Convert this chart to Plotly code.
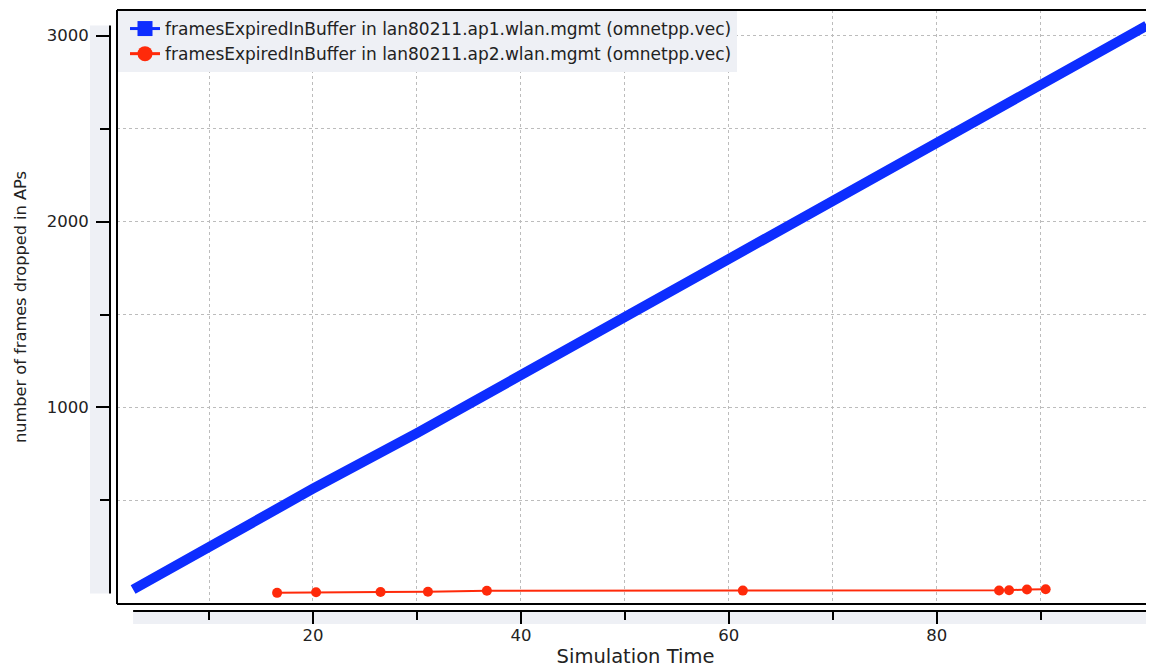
import plotly.graph_objects as go

# ---- data ----
sim_time_ap1 = [2.7, 10, 20, 30, 40, 50, 60, 70, 80, 90, 100.2]
frames_ap1 = [21, 250, 563, 862, 1175, 1492, 1802, 2115, 2421, 2740, 3054]

sim_time_ap2 = [16.55, 20.3, 26.5, 31.06, 36.73, 61.35, 86.0, 86.96, 88.68, 90.48]
frames_ap2 = [3, 6, 8, 9, 14, 15, 16, 17, 21, 22]

series_names = [
    "framesExpiredInBuffer in lan80211.ap1.wlan.mgmt (omnetpp.vec)",
    "framesExpiredInBuffer in lan80211.ap2.wlan.mgmt (omnetpp.vec)",
]

x_major_ticks = [20, 40, 60, 80]
x_minor_ticks = [10, 30, 50, 70, 90]
y_major_ticks = [1000, 2000, 3000]
y_minor_ticks = [500, 1500, 2500]

x_title = "Simulation Time"
y_title = "number of frames dropped in APs"

# ---- styling ----
BLUE = "#0d2dff"
RED = "#ff2a0a"
BAND = "#eef0f5"
GRID = "#bcbcbc"
FONT = "DejaVu Sans"
TXT = "#222222"

# page body has an 8px default margin: compensate
OFF = 8
W, H = 1154 - OFF, 668 - OFF
M_L, M_R, M_T, M_B = 110 - OFF, 0, 10 - OFF, 57
paper_w = W - M_L - M_R
paper_h = H - M_T - M_B
frame_left_px = 7     # gap between y-axis line and plot frame
frame_bottom_px = 7   # gap between x-axis line and plot frame
xd0 = frame_left_px / paper_w
yd0 = frame_bottom_px / paper_h

fig = go.Figure()

# data traces
fig.add_trace(go.Scatter(
    x=sim_time_ap1, y=frames_ap1, mode="lines",
    line=dict(color=BLUE, width=10), showlegend=False,
))
fig.add_trace(go.Scatter(
    x=sim_time_ap2, y=frames_ap2, mode="lines+markers",
    line=dict(color=RED, width=2), marker=dict(color=RED, size=10, symbol="circle"),
    showlegend=False,
))
# legend entries
fig.add_trace(go.Scatter(
    x=[None], y=[None], mode="lines+markers", name=series_names[0],
    line=dict(color=BLUE, width=3), marker=dict(color=BLUE, size=15, symbol="square"),
))
fig.add_trace(go.Scatter(
    x=[None], y=[None], mode="lines+markers", name=series_names[1],
    line=dict(color=RED, width=3), marker=dict(color=RED, size=15, symbol="circle"),
))

x_lo, x_hi = min(sim_time_ap1), max(sim_time_ap1)
y_lo, y_hi = 0, max(frames_ap1)

shapes = [
    # grey bands behind the axes
    dict(type="rect", xref="paper", yref="y", x0=-20 / paper_w, x1=0, y0=y_lo, y1=y_hi,
         fillcolor=BAND, line=dict(width=0), layer="below"),
    dict(type="rect", xref="x", yref="paper", x0=x_lo, x1=x_hi, y0=-13 / paper_h, y1=0,
         fillcolor=BAND, line=dict(width=0), layer="below"),
    # axis lines spanning the data range
    dict(type="line", xref="paper", yref="y", x0=0, x1=0, y0=y_lo, y1=y_hi,
         line=dict(color="black", width=2)),
    dict(type="line", xref="x", yref="paper", x0=x_lo, x1=x_hi, y0=0, y1=0,
         line=dict(color="black", width=2)),
    # plot frame (left, top, bottom)
    dict(type="line", xref="paper", yref="paper", x0=xd0, x1=xd0, y0=yd0, y1=1,
         line=dict(color="black", width=2)),
    dict(type="line", xref="paper", yref="paper", x0=xd0, x1=1.01, y0=1, y1=1,
         line=dict(color="black", width=2)),
    dict(type="line", xref="paper", yref="paper", x0=xd0, x1=1.01, y0=yd0, y1=yd0,
         line=dict(color="black", width=2)),
]

fig.update_layout(
    width=W, height=H,
    margin=dict(l=M_L, r=M_R, t=M_T, b=M_B),
    paper_bgcolor="white", plot_bgcolor="white",
    font=dict(family=FONT, size=16, color=TXT),
    shapes=shapes,
    showlegend=True,
    legend=dict(
        x=xd0 + 1 / paper_w, y=1 - 1 / paper_h, xanchor="left", yanchor="top",
        bgcolor=BAND, borderwidth=0, indentation=7,
        font=dict(family=FONT, size=17, color=TXT),
        tracegroupgap=0, itemclick=False,
    ),
    xaxis=dict(
        domain=[xd0, 1], range=[1.15, 100.9], anchor="free", position=0,
        showline=False, zeroline=False,
        tickmode="array", tickvals=x_major_ticks,
        ticks="outside", ticklen=12, tickwidth=2, tickcolor="black",
        tickfont=dict(family=FONT, size=16.5, color=TXT),
        ticklabelstandoff=-3,
        showgrid=True, gridcolor=GRID, griddash="dot", gridwidth=1,
        minor=dict(tickmode="array", tickvals=x_minor_ticks, ticks="outside",
                   ticklen=8, tickwidth=2, tickcolor="black",
                   showgrid=True, gridcolor=GRID, griddash="dot", gridwidth=1),
        title=dict(text=x_title, font=dict(family=FONT, size=19.5, color=TXT), standoff=7),
        automargin=False,
    ),
    yaxis=dict(
        domain=[yd0, 1], range=[-57, 3138], anchor="free", position=0,
        showline=False, zeroline=False,
        tickmode="array", tickvals=y_major_ticks,
        ticks="outside", ticklen=14, tickwidth=2, tickcolor="black",
        tickfont=dict(family=FONT, size=16.5, color=TXT),
        ticklabelstandoff=4,
        showgrid=True, gridcolor=GRID, griddash="dot", gridwidth=1,
        minor=dict(tickmode="array", tickvals=y_minor_ticks, ticks="outside",
                   ticklen=10, tickwidth=2, tickcolor="black",
                   showgrid=True, gridcolor=GRID, griddash="dot", gridwidth=1),
        title=dict(text=y_title, font=dict(family=FONT, size=16.2, color=TXT), standoff=15),
        automargin=False,
    ),
)

fig.write_html("out.html")
